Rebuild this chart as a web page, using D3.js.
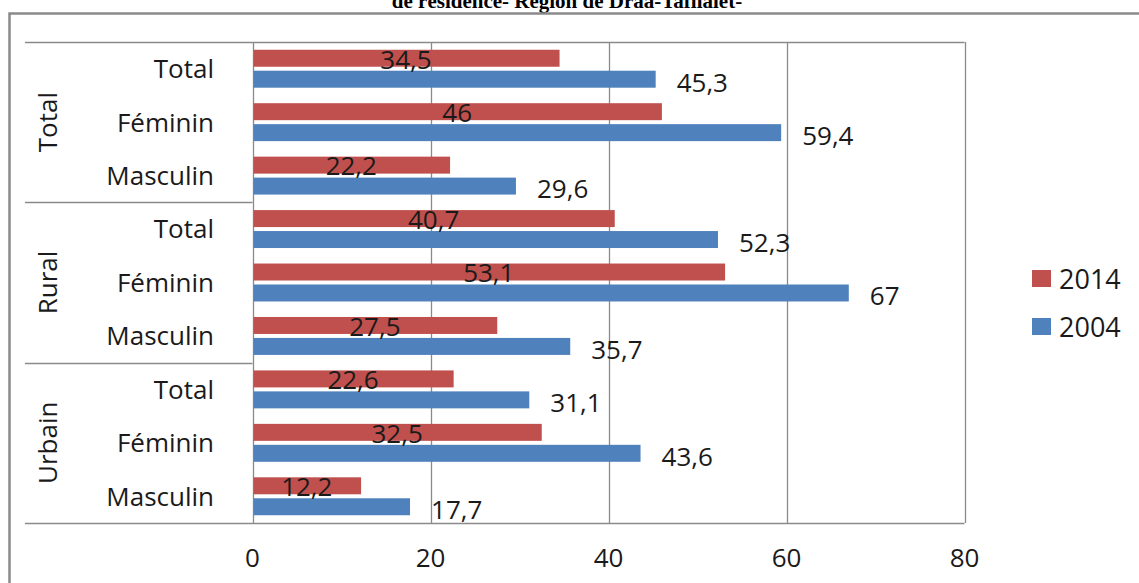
<!DOCTYPE html>
<html lang="fr">
<head>
    <meta charset="UTF-8">
    <title>Région de Drâa-Tafilalet</title>
    <script src="https://d3js.org/d3.v7.min.js"></script>
    <style>
        body { margin: 0; background: #fff; }
        svg { display: block; }
        .lbl { font-family: "Open Sans", sans-serif; fill: #1a1a1a; }
    </style>
</head>
<body>
    <div id="chart"></div>
    <script>
        // data, top to bottom as in the picture
        const groups = ["Total", "Rural", "Urbain"];
        const sexes = ["Total", "Féminin", "Masculin"];
        const series = ["2014", "2004"];
        const values2014 = [34.5, 46, 22.2, 40.7, 53.1, 27.5, 22.6, 32.5, 12.2];
        const values2004 = [45.3, 59.4, 29.6, 52.3, 67, 35.7, 31.1, 43.6, 17.7];
        const xTicks = [0, 20, 40, 60, 80];

        const colors = {"2014": "#C0504D", "2004": "#4F81BD"};
        const width = 1139, height = 583;
        const fmt = v => String(v).replace(".", ",");

        const rows = [];
        groups.forEach((g, gi) => sexes.forEach((s, si) => {
            const i = gi * sexes.length + si;
            rows.push({key: g + "|" + s, group: g, sex: s, "2014": values2014[i], "2004": values2004[i]});
        }));

        const svg = d3.select("#chart").append("svg")
            .attr("width", width)
            .attr("height", height);

        // title, cut off at the top edge like the source
        svg.append("text")
            .attr("x", 567)
            .attr("y", 8)
            .attr("text-anchor", "middle")
            .style("font-family", "'Liberation Serif', serif")
            .style("font-weight", "bold")
            .style("font-size", "21px")
            .text("de résidence- Région de Drâa-Tafilalet-");

        // outer chart frame
        svg.append("path")
            .attr("d", `M9.5,${height} V13.5 H${width}`)
            .attr("fill", "none")
            .attr("stroke", "#8a8a8a")
            .attr("stroke-width", 2.5);

        const x = d3.scaleLinear().domain([0, 80]).range([252.5, 964.5]);
        const y = d3.scaleBand().domain(rows.map(d => d.key)).range([42, 523]);
        const ySub = d3.scaleBand().domain(series).range([0, y.bandwidth()])
            .paddingInner(0.19).paddingOuter(0.37);

        // vertical gridlines
        svg.append("g").selectAll("line")
            .data(xTicks)
            .join("line")
            .attr("x1", d => Math.round(x(d)) + 0.5)
            .attr("x2", d => Math.round(x(d)) + 0.5)
            .attr("y1", 42)
            .attr("y2", 523)
            .attr("stroke", "#8a8a8a")
            .attr("stroke-width", 1.3);

        // top and bottom borders plus group separators
        const sepY = groups.map((g, gi) => y(rows[gi * 3].key)).concat([523]);
        svg.append("g").selectAll("line")
            .data(sepY)
            .join("line")
            .attr("x1", 25)
            .attr("x2", (d, i) => (i === 0 || i === sepY.length - 1) ? x(80) : x(0))
            .attr("y1", d => Math.round(d) + 0.5)
            .attr("y2", d => Math.round(d) + 0.5)
            .attr("stroke", "#8a8a8a")
            .attr("stroke-width", 1.3);

        // bars
        const rowG = svg.append("g").selectAll("g")
            .data(rows)
            .join("g")
            .attr("transform", d => `translate(0,${y(d.key)})`);

        series.forEach(s => {
            rowG.append("rect")
                .attr("x", x(0) + 1)
                .attr("y", ySub(s))
                .attr("width", d => x(d[s]) - x(0) - 1)
                .attr("height", ySub.bandwidth())
                .attr("fill", colors[s]);
        });

        // 2014 labels sit in the middle of the bar
        rowG.append("text")
            .attr("class", "lbl")
            .attr("x", d => (x(0) + x(d["2014"])) / 2)
            .attr("y", ySub("2014") + ySub.bandwidth() / 2 + 1)
            .attr("dy", "0.36em")
            .attr("text-anchor", "middle")
            .style("font-size", "26px")
            .text(d => fmt(d["2014"]));

        // 2004 labels outside the end
        rowG.append("text")
            .attr("class", "lbl")
            .attr("x", d => x(d["2004"]) + 21)
            .attr("y", ySub("2004") + ySub.bandwidth() / 2 + 3)
            .attr("dy", "0.36em")
            .style("font-size", "26px")
            .text(d => fmt(d["2004"]));

        // category labels
        svg.append("g").selectAll("text")
            .data(rows)
            .join("text")
            .attr("class", "lbl")
            .attr("x", 214)
            .attr("y", d => y(d.key) + y.bandwidth() / 2)
            .attr("dy", "0.36em")
            .attr("text-anchor", "end")
            .style("font-size", "26px")
            .text(d => d.sex);

        svg.append("g").selectAll("text")
            .data(groups)
            .join("text")
            .attr("class", "lbl")
            .attr("transform", (g, gi) => `translate(48,${(sepY[gi] + sepY[gi + 1]) / 2}) rotate(-90)`)
            .attr("dy", "0.36em")
            .attr("text-anchor", "middle")
            .style("font-size", "26px")
            .text(d => d);

        // x axis tick labels
        svg.append("g").selectAll("text")
            .data(xTicks)
            .join("text")
            .attr("class", "lbl")
            .attr("x", d => x(d))
            .attr("y", 558)
            .attr("dy", "0.36em")
            .attr("text-anchor", "middle")
            .style("font-size", "26px")
            .text(d => d);

        // legend
        const legend = svg.append("g").selectAll("g")
            .data(series)
            .join("g")
            .attr("transform", (d, i) => `translate(1032,${270 + i * 48})`);

        legend.append("rect")
            .attr("width", 19)
            .attr("height", 17)
            .attr("fill", d => colors[d]);

        legend.append("text")
            .attr("class", "lbl")
            .attr("x", 27)
            .attr("y", 9)
            .attr("dy", "0.36em")
            .style("font-size", "27px")
            .text(d => d);
    </script>
</body>
</html>
